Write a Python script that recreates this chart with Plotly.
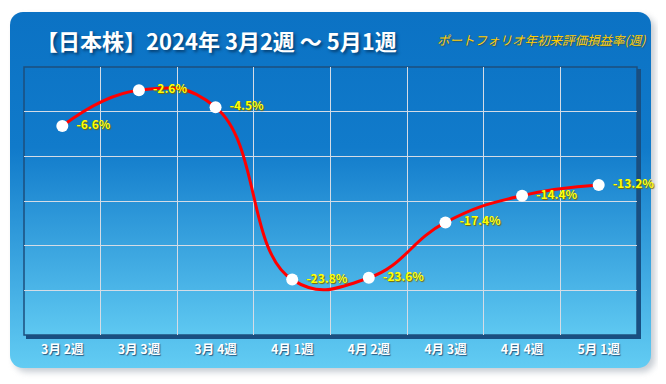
import base64
import plotly.graph_objects as go

# ---- data ----
categories = ["3月 2週", "3月 3週", "3月 4週", "4月 1週", "4月 2週", "4月 3週", "4月 4週", "5月 1週"]
values = [-6.6, -2.6, -4.5, -23.8, -23.6, -17.4, -14.4, -13.2]
labels = [f"\u00a0\u00a0{v:.1f}%" for v in values]
title_text = "【日本株】2024年 3月2週 ～ 5月1週"
subtitle_text = "ポートフォリオ年初来評価損益率(週)"

OFF = 8  # page body margin
W, H = 666 - OFF, 384 - OFF
ML, MR, MT, MB = 24 - OFF, 29, 67 - OFF, 49
PW, PH = W - ML - MR, H - MT - MB

px0, py0 = 10 - OFF, 12 - OFF
svg = f"""<svg xmlns='http://www.w3.org/2000/svg' width='{W}' height='{H}' viewBox='0 0 {W} {H}'>
<defs>
<linearGradient id='g' x1='0' y1='0' x2='0' y2='1'>
<stop offset='0' stop-color='#0b72c4'/>
<stop offset='0.38' stop-color='#107aca'/>
<stop offset='1' stop-color='#62ccf3'/>
</linearGradient>
<linearGradient id='p' x1='0' y1='0' x2='0' y2='1'>
<stop offset='0' stop-color='#0d75c6'/>
<stop offset='0.3' stop-color='#117bcb'/>
<stop offset='1' stop-color='#5ec8f1'/>
</linearGradient>
<filter id='b' x='-5%' y='-5%' width='110%' height='110%'><feGaussianBlur stdDeviation='3'/></filter>
</defs>
<rect x='{px0+4}' y='{py0+4}' width='641' height='356' rx='13' fill='#9aa4b0' opacity='0.55' filter='url(#b)'/>
<rect x='{px0}' y='{py0}' width='641' height='356' rx='13' fill='url(#g)'/>
<rect x='{ML+2}' y='{MT+2}' width='{PW+2}' height='{PH+2}' fill='#184f82'/>
<rect x='{ML}' y='{MT}' width='{PW}' height='{PH}' fill='url(#p)' stroke='#1c4f7e' stroke-width='1.5'/>
</svg>"""
uri = "data:image/svg+xml;base64," + base64.b64encode(svg.encode("utf-8")).decode("ascii")

fig = go.Figure()
fig.add_trace(go.Scatter(
    x=categories, y=values,
    mode="lines+markers+text",
    line=dict(color="#ff0000", width=3, shape="spline", smoothing=1.3),
    marker=dict(color="#ffffff", size=12, line=dict(width=0)),
    text=labels, textposition="middle right",
    textfont=dict(family="Noto Sans CJK JP", size=12, color="#ffff00", weight="bold",
                  shadow="1px 1px 1px #7a6a00"),
    cliponaxis=False, hoverinfo="skip",
))

fig.update_layout(
    width=W, height=H,
    margin=dict(l=ML, r=MR, t=MT, b=MB),
    paper_bgcolor="#ffffff", plot_bgcolor="rgba(0,0,0,0)",
    showlegend=False,
    images=[dict(source=uri, xref="paper", yref="paper",
                 x=-ML / PW, y=1 + MT / PH, sizex=W / PW, sizey=H / PH,
                 xanchor="left", yanchor="top", sizing="stretch", layer="below")],
    xaxis=dict(type="category", tickson="boundaries", range=[-0.5, 7.5],
               showgrid=True, gridcolor="#d4dce6", gridwidth=1,
               zeroline=False, showline=False, ticks="",
               tickfont=dict(family="Noto Sans CJK JP", size=12.5, color="#ffffff", weight="bold",
                             shadow="1px 1px 1px #2a5a80"),
               ticklabelstandoff=5),
    yaxis=dict(range=[-30, 0], dtick=5, showgrid=True, gridcolor="#d4dce6", gridwidth=1,
               zeroline=False, showticklabels=False, ticks="", showline=False),
    annotations=[
        dict(text=f"<b>{title_text}</b>", xref="paper", yref="paper",
             x=(34 - OFF - ML) / PW, y=1 + (MT - (40 - OFF)) / PH, xanchor="left", yanchor="middle",
             showarrow=False,
             font=dict(family="Noto Sans CJK JP", size=22, color="#ffffff",
                       shadow="2px 2px 3px rgba(0,30,60,0.6)")),
        dict(text=f"<i>{subtitle_text}</i>", xref="paper", yref="paper",
             x=(648 - OFF - ML) / PW, y=1 + (MT - (40 - OFF)) / PH, xanchor="right", yanchor="middle",
             showarrow=False,
             font=dict(family="Noto Sans CJK JP", size=12.5, color="#ffcc00",
                       shadow="1px 1px 1px rgba(80,60,0,0.5)")),
    ],
)

fig.write_html("out.html")
